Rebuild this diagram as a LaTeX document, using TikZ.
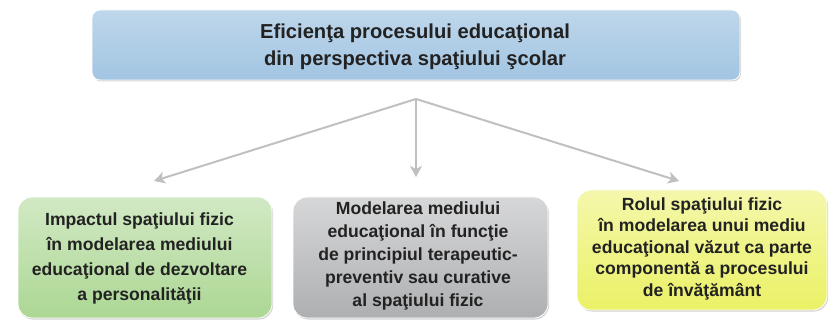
\documentclass[tikz,border=0pt]{standalone}
\usepackage{fontspec}
\setmainfont{Liberation Sans}
\usetikzlibrary{shadows,arrows.meta}
\definecolor{topblue}{HTML}{A2C5E2}
\definecolor{greenbox}{HTML}{ACD794}
\definecolor{graybox}{HTML}{AEAFB1}
\definecolor{yellowbox}{HTML}{EBF166}
\definecolor{arrowgray}{HTML}{C0C0C0}
\definecolor{inktext}{HTML}{222222}
\tikzset{
  card/.style={rounded corners=14pt, draw=white, line width=0.8pt, inner sep=0pt,
    drop shadow={shadow xshift=1pt, shadow yshift=-1.5pt, opacity=0.35}},
  cardtext/.style={align=center, inner sep=0pt, anchor=base, text=inktext,
    font=\bfseries\fontsize{17.6}{#1}\selectfont},
  arrowline/.style={draw=arrowgray, line width=2pt, -{Stealth[length=11pt,width=12pt,inset=3pt]}}
}
\begin{document}
\begin{tikzpicture}[x=1pt,y=-1pt]
    \useasboundingbox (0,0) rectangle (835,320);

    % main box
    \node[card, rounded corners=8pt, minimum width=648pt, minimum height=70pt,
          top color=topblue!70, bottom color=topblue] (main) at (416,45) {};
    % base anchor = baseline of the last line
    \node[cardtext=27.4, font=\bfseries\fontsize{20.2}{27.4}\selectfont] (maintxt) at (415,65.7)
        {Eficienţa procesului educaţional\\din perspectiva spaţiului şcolar};

    % arrows
    \coordinate (hub) at (416,99);
    \coordinate (endl) at (154,181);
    \coordinate (endc) at (416,177);
    \coordinate (endr) at (679,181);
    \foreach \e in {endl,endc,endr}
      \draw[arrowline] (hub) -- (\e);

    % the three branches
    \node[card, minimum width=254pt, minimum height=121pt,
          top color=greenbox!55, bottom color=greenbox] (impact) at (145,257.5) {};
    \node[cardtext=25] (impacttxt) at (139.5,300.5)
        {Impactul spaţiului fizic\\în modelarea mediului\\educaţional de dezvoltare\\a personalităţii};

    \node[card, minimum width=255pt, minimum height=121pt,
          top color=graybox!50, bottom color=graybox] (model) at (420.5,257.5) {};
    \node[cardtext=23] (modeltxt) at (418,306)
        {Modelarea mediului\\educaţional în funcţie\\de principiul terapeutic-\\preventiv sau curative\\al spaţiului fizic};

    \node[card, minimum width=250pt, minimum height=120pt,
          top color=yellowbox!55, bottom color=yellowbox] (rol) at (702,250) {};
    \node[cardtext=21.5] (roltxt) at (702,296.5)
        {Rolul spaţiului fizic\\în modelarea unui mediu\\educaţional văzut ca parte\\componentă a procesului\\de învăţământ};
\end{tikzpicture}
\end{document}
